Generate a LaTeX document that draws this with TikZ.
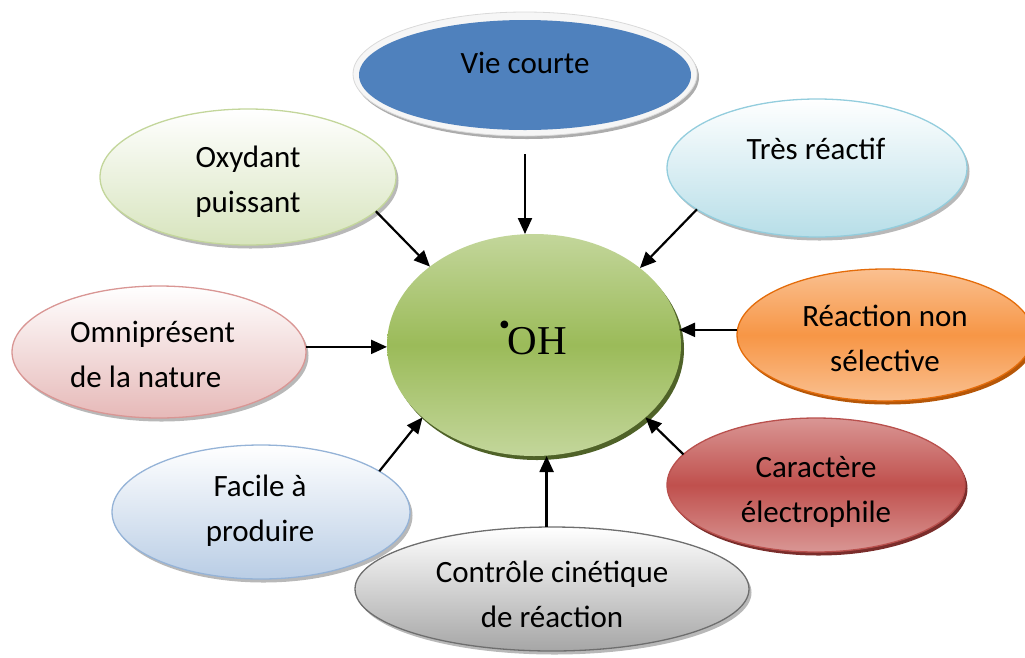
\documentclass[tikz,border=0pt]{standalone}
\usepackage{fontspec}
\setmainfont{Carlito}
\newfontfamily\serifoh{Liberation Serif}
\usetikzlibrary{shapes.geometric,shadows,arrows.meta}
\definecolor{vieblue}{HTML}{4F81BD}
\definecolor{ohmid}{HTML}{9BBB59}
\definecolor{ohlight}{HTML}{C3D69B}
\definecolor{ohdark}{HTML}{4F6228}
\definecolor{oxyline}{HTML}{C3D69B}
\definecolor{oxyfill}{HTML}{D7E4BD}
\definecolor{tresline}{HTML}{93CDDD}
\definecolor{tresfill}{HTML}{B7DEE8}
\definecolor{omniline}{HTML}{D99694}
\definecolor{omnifill}{HTML}{E6B9B8}
\definecolor{realine}{HTML}{E46C0A}
\definecolor{reamid}{HTML}{F79646}
\definecolor{realight}{HTML}{FAC090}
\definecolor{reashadow}{HTML}{B65708}
\definecolor{caraline}{HTML}{B9504D}
\definecolor{caramid}{HTML}{C0504D}
\definecolor{caralight}{HTML}{D99694}
\definecolor{carashadow}{HTML}{7A2D2B}
\definecolor{facline}{HTML}{95B3D7}
\definecolor{facfill}{HTML}{B9CDE5}
\definecolor{contline}{HTML}{6E6E6E}
\definecolor{contfill}{HTML}{A6A6A6}
\begin{document}
\begin{tikzpicture}[x=1pt,y=-1pt,
  bub/.style={ellipse, inner sep=0pt, outer sep=0pt, line width=1.3pt},
  softshadow/.style={general shadow={shadow xshift=2.5pt, shadow yshift=-3.5pt, fill=black, opacity=0.28}},
  txt/.style={font=\fontsize{31}{45}\selectfont, align=center, inner sep=0pt},
  arr/.style={line width=2.2pt, -{Triangle[length=16pt,width=14pt]}},
]
\useasboundingbox (0,0) rectangle (1025,657);

% central node
\node[bub, minimum width=294pt, minimum height=222pt, draw=none,
  top color=ohlight, bottom color=ohlight, middle color=ohmid,
  general shadow={shadow xshift=3pt, shadow yshift=-4pt, fill=ohdark}] (oh) at (534,345) {};
\node[font=\serifoh\fontsize{41}{48}\selectfont, inner sep=0pt] (toh) at (533,338)
  {\raisebox{19pt}{\fontsize{32}{32}\selectfont\textbullet}\kern-2pt OH};

% Vie courte
\node[bub, minimum width=344pt, minimum height=124pt, fill=gray!7, draw=gray!30, line width=0.8pt,
  general shadow={shadow xshift=2pt, shadow yshift=-3pt, fill=gray!65}] (vieback) at (525,74) {};
\node[bub, minimum width=332pt, minimum height=110pt, fill=vieblue, draw=none] (vie) at (525,75) {};
\node[txt] (tvie) at (525,63) {Vie courte};

% Oxydant puissant
\node[bub, minimum width=296pt, minimum height=136pt, draw=oxyline,
  top color=white, bottom color=oxyfill, softshadow] (oxy) at (248,177) {};
\node[txt] (toxy) at (248,182) {Oxydant\\puissant};

% Tres reactif
\node[bub, minimum width=300pt, minimum height=138pt, draw=tresline,
  top color=white, bottom color=tresfill, softshadow] (tres) at (817,168) {};
\node[txt] (ttres) at (816,149) {Très réactif};

% Omnipresent
\node[bub, minimum width=294pt, minimum height=132pt, draw=omniline,
  top color=white, bottom color=omnifill, softshadow] (omni) at (159,352) {};
\node[txt, align=left, anchor=west] (tomni) at (70,354) {Omniprésent\\de la nature};

% Reaction non selective
\node[bub, minimum width=296pt, minimum height=132pt, draw=realine,
  top color=realight, bottom color=realight, middle color=reamid,
  general shadow={shadow xshift=2.5pt, shadow yshift=-3.5pt, fill=reashadow}] (rea) at (885,335) {};
\node[txt] (trea) at (885,338) {Réaction non\\sélective};

% Caractere electrophile
\node[bub, minimum width=298pt, minimum height=134pt, draw=caraline,
  top color=caralight, bottom color=caralight, middle color=caramid,
  general shadow={shadow xshift=2.5pt, shadow yshift=-3.5pt, fill=carashadow}] (cara) at (816,485) {};
\node[txt] (tcara) at (816,492) {Caractère\\électrophile};

% Facile a produire
\node[bub, minimum width=298pt, minimum height=134pt, draw=facline,
  top color=white, bottom color=facfill, softshadow] (fac) at (261,512) {};
\node[txt] (tfac) at (260,511) {Facile à\\produire};

% Controle cinetique
\node[bub, minimum width=394pt, minimum height=124pt, draw=contline,
  top color=white, bottom color=contfill, softshadow] (cont) at (552,589) {};
\node[txt] (tcont) at (552,594) {Contrôle cinétique\\de réaction};

% arrows
\draw[arr, shorten <=24pt] (vie.south) -- (vie.south |- oh.north);
\draw[arr] (oxy.-15) -- (oh.143);
\draw[arr] (tres.-161) -- (oh.36);
\draw[arr] (omni.2.3) -- (omni.2.3 -| oh.west);
\draw[arr] (rea.178.5) -- ([xshift=-2pt]rea.178.5 -| oh.east);
\draw[arr] (cara.167.7) -- (oh.-33);
\draw[arr] (fac.19) -- (oh.-147);
\draw[arr] (cont.95.5) -- (cont.95.5 |- oh.south);
\end{tikzpicture}
\end{document}
